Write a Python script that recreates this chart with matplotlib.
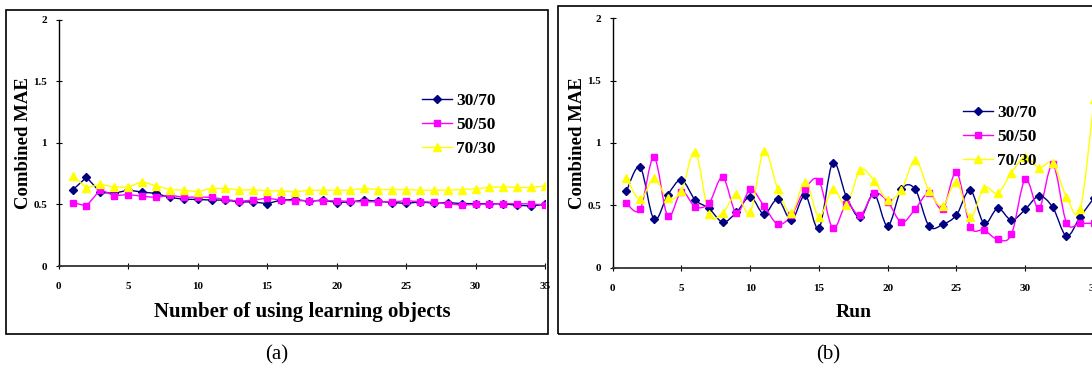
import numpy as np
import matplotlib
matplotlib.use("Agg")
import matplotlib.pyplot as plt
from matplotlib.path import Path
from matplotlib.patches import PathPatch, Rectangle
from matplotlib.lines import Line2D

plt.rcParams['font.family'] = ['Liberation Serif', 'DejaVu Serif']

runs = list(range(1, 36))
series_names = ['30/70', '50/50', '70/30']

# (a) number of using learning objects
a_3070 = [0.616, 0.72, 0.597, 0.59, 0.616, 0.60, 0.589, 0.556, 0.542, 0.54,
          0.535, 0.535, 0.52, 0.52, 0.506, 0.535, 0.54, 0.525, 0.535, 0.515,
          0.52, 0.535, 0.525, 0.515, 0.508, 0.52, 0.51, 0.515, 0.506, 0.506,
          0.505, 0.505, 0.493, 0.487, 0.50]
a_5050 = [0.515, 0.487, 0.62, 0.57, 0.58, 0.566, 0.556, 0.575, 0.557, 0.56,
          0.557, 0.54, 0.525, 0.535, 0.55, 0.535, 0.53, 0.53, 0.53, 0.53,
          0.524, 0.52, 0.522, 0.52, 0.53, 0.522, 0.518, 0.505, 0.495, 0.50,
          0.503, 0.506, 0.506, 0.503, 0.497]
a_7030 = [0.73, 0.635, 0.662, 0.64, 0.64, 0.685, 0.65, 0.62, 0.615, 0.603,
          0.63, 0.63, 0.615, 0.62, 0.61, 0.61, 0.60, 0.615, 0.615, 0.615,
          0.615, 0.63, 0.62, 0.62, 0.62, 0.615, 0.615, 0.615, 0.62, 0.627,
          0.637, 0.643, 0.637, 0.637, 0.65]

# (b) run
b_3070 = [0.615, 0.805, 0.388, 0.583, 0.703, 0.543, 0.476, 0.366, 0.443, 0.57,
          0.43, 0.548, 0.382, 0.58, 0.316, 0.842, 0.567, 0.403, 0.593, 0.334,
          0.63, 0.628, 0.334, 0.347, 0.423, 0.623, 0.356, 0.476, 0.382, 0.467,
          0.575, 0.484, 0.254, 0.409, 0.56]
b_5050 = [0.516, 0.468, 0.885, 0.415, 0.61, 0.489, 0.516, 0.725, 0.436, 0.628,
          0.495, 0.35, 0.42, 0.634, 0.698, 0.316, 0.508, 0.42, 0.596, 0.53,
          0.364, 0.47, 0.60, 0.47, 0.765, 0.329, 0.302, 0.227, 0.268, 0.709,
          0.476, 0.829, 0.361, 0.356, 0.356]
b_7030 = [0.716, 0.548, 0.716, 0.556, 0.617, 0.93, 0.43, 0.44, 0.59, 0.444,
          0.938, 0.631, 0.436, 0.69, 0.409, 0.631, 0.503, 0.783, 0.698, 0.543,
          0.623, 0.864, 0.617, 0.495, 0.69, 0.403, 0.642, 0.597, 0.762, 0.89,
          0.802, 0.837, 0.569, 0.47, 1.35]

colors = ['#000080', '#FF00FF', '#FFFF00']
markers = ['D', 's', '^']
msizes = [3.8, 4.8, 5.8]


def smooth_path(x, y):
    # Excel style smoothed line: cubic bezier through every point
    x = np.asarray(x, float)
    y = np.asarray(y, float)
    n = len(x)
    verts = [(x[0], y[0])]
    codes = [Path.MOVETO]
    for i in range(n - 1):
        p0 = np.array([x[max(i - 1, 0)], y[max(i - 1, 0)]])
        p1 = np.array([x[i], y[i]])
        p2 = np.array([x[i + 1], y[i + 1]])
        p3 = np.array([x[min(i + 2, n - 1)], y[min(i + 2, n - 1)]])
        c1 = p1 + (p2 - p0) / 6.0
        c2 = p2 - (p3 - p1) / 6.0
        verts += [tuple(c1), tuple(c2), tuple(p2)]
        codes += [Path.CURVE4] * 3
    return Path(verts, codes)


def style_axes(ax, xlabel, xsize):
    ax.set_xlim(0, 35)
    ax.set_ylim(0, 2)
    ax.set_xticks(range(0, 36, 5))
    ax.set_yticks([0, 0.5, 1, 1.5, 2])
    ax.set_yticklabels(['0', '0.5', '1', '1.5', '2'])
    ax.spines['top'].set_visible(False)
    ax.spines['right'].set_visible(False)
    ax.spines['bottom'].set_color('#333333')
    ax.spines['bottom'].set_linewidth(1.3)
    ax.spines['left'].set_linewidth(1.0)
    ax.tick_params(axis='both', direction='inout', length=5, width=0.8,
                   labelsize=8, pad=6)
    ax.tick_params(axis='x', pad=9)
    for lab in ax.get_xticklabels() + ax.get_yticklabels():
        lab.set_fontweight('bold')
    ax.set_ylabel('Combined MAE', fontsize=13.5, fontweight='bold', labelpad=1)
    ax.set_xlabel(xlabel, fontsize=xsize, fontweight='bold', labelpad=8)
    ax.patch.set_alpha(0)


fig = plt.figure(figsize=(10.92, 3.73), dpi=100)

# panel frames
fig.patches.append(Rectangle((6 / 1092, (373 - 334) / 373), 542 / 1092, 324 / 373,
                             transform=fig.transFigure, fill=False,
                             edgecolor='black', linewidth=1.2))
fig.patches.append(Rectangle((558 / 1092, (373 - 334) / 373), 560 / 1092, 328 / 373,
                             transform=fig.transFigure, fill=False,
                             edgecolor='black', linewidth=1.2))

ax1 = fig.add_axes([58.7 / 1092, (373 - 266) / 373, (545 - 58.7) / 1092, (266 - 19.5) / 373])
ax2 = fig.add_axes([612.7 / 1092, (373 - 267.7) / 373, (1094 - 612.7) / 1092, (267.7 - 18.3) / 373])

for data, c, m, ms in zip([a_3070, a_5050, a_7030], colors, markers, msizes):
    ax1.plot(runs, data, color=c, marker=m, markersize=ms, linewidth=1.0)

for data, c, m, ms in zip([b_3070, b_5050, b_7030], colors, markers, msizes):
    ax2.add_patch(PathPatch(smooth_path(runs, data), facecolor='none',
                            edgecolor=c, linewidth=1.0))
    ax2.plot(runs, data, color=c, marker=m, markersize=ms, linestyle='none')

style_axes(ax1, 'Number of using learning objects', 15)
style_axes(ax2, 'Run', 14)

handles = [Line2D([], [], color=c, marker=m, markersize=ms, linewidth=1.0)
           for c, m, ms in zip(colors, markers, msizes)]
leg_kw = dict(frameon=False, handlelength=1.7, handletextpad=0.25,
              labelspacing=0.45, borderpad=0, borderaxespad=0,
              prop={'weight': 'bold', 'size': 12.5})
ax1.legend(handles, series_names, loc='upper left',
           bbox_to_anchor=((422 - 58.7) / 486.3, (266 - 93) / 246.5), **leg_kw)
ax2.legend(handles, series_names, loc='upper left',
           bbox_to_anchor=((963 - 612.7) / 481.3, (267.7 - 105) / 249.4), **leg_kw)

fig.text(277 / 1092, 1 - 355 / 373, '(a)', ha='center', va='center', fontsize=15)
fig.text(828 / 1092, 1 - 355 / 373, '(b)', ha='center', va='center', fontsize=15)

fig.savefig('out.png', dpi=100)
